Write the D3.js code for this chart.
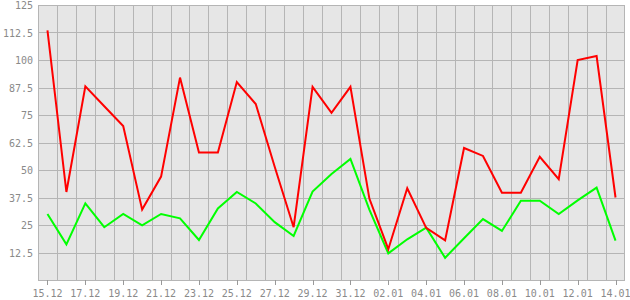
<!DOCTYPE html>
<html>
<head>
<meta charset="utf-8">
<script src="https://cdn.jsdelivr.net/npm/d3@7"></script>
<style>
  body { margin: 0; background: #fff; }
  svg { display: block; }
  .lbl { font-family: "DejaVu Sans Mono", monospace; font-size: 10px; fill: #8a8a8a; }
</style>
</head>
<body>
<svg id="chart" width="630" height="300"></svg>
<script>
// days shown on the x axis
var days = ["15.12","16.12","17.12","18.12","19.12","20.12","21.12","22.12","23.12","24.12",
  "25.12","26.12","27.12","28.12","29.12","30.12","31.12","01.01","02.01","03.01",
  "04.01","05.01","06.01","07.01","08.01","09.01","10.01","11.01","12.01","13.01","14.01"];

var redValues = [113.5, 40, 88, 79, 70, 32, 47, 92, 58, 58,
  90, 80, 51.5, 24, 87.8, 76, 87.8, 37, 14, 41.7,
  23.7, 18, 60, 56.4, 39.7, 39.7, 56, 45.8, 100, 101.8, 37.5];

var greenValues = [30, 16.2, 34.8, 24, 30, 24.8, 30, 28, 18.2, 32.5,
  40, 34.8, 26.3, 20, 40.2, 48.2, 55, 32, 12.1, 18.5,
  23.8, 10.1, 19, 27.7, 22.3, 36, 36, 30, 36.2, 42, 17.9];

var yTicks = [12.5, 25, 37.5, 50, 62.5, 75, 87.5, 100, 112.5, 125];

var Config = {
  Left: 38,
  Right: 625,
  Top: 5,
  Bottom: 280,
  PlotFill: "#e6e6e6",
  GridColor: "#b5b5b5",
  LineWidth: 2
};

var svg = d3.select("#chart");

var x = d3.scaleBand().domain(days).range([Config.Left, Config.Right]).padding(0);
var y = d3.scaleLinear().domain([0, 125]).range([Config.Bottom, Config.Top]);
var cx = function (d) { return x(d) + x.bandwidth() / 2; };

// plot background
svg.append("rect")
  .attr("x", Config.Left)
  .attr("y", Config.Top)
  .attr("width", Config.Right - Config.Left)
  .attr("height", Config.Bottom - Config.Top)
  .attr("fill", Config.PlotFill);

// vertical grid at band boundaries
svg.selectAll(".vgrid")
  .data(days.slice(1))
  .enter().append("line")
  .attr("x1", function (d) { return Math.round(x(d)) + 0.5; })
  .attr("x2", function (d) { return Math.round(x(d)) + 0.5; })
  .attr("y1", Config.Top)
  .attr("y2", Config.Bottom)
  .attr("stroke", Config.GridColor);

// horizontal grid
svg.selectAll(".hgrid")
  .data(yTicks)
  .enter().append("line")
  .attr("x1", Config.Left)
  .attr("x2", Config.Right)
  .attr("y1", function (d) { return Math.round(y(d)) + 0.5; })
  .attr("y2", function (d) { return Math.round(y(d)) + 0.5; })
  .attr("stroke", Config.GridColor);

// frame
svg.append("rect")
  .attr("x", Config.Left + 0.5)
  .attr("y", Config.Top + 0.5)
  .attr("width", Config.Right - Config.Left - 1)
  .attr("height", Config.Bottom - Config.Top)
  .attr("fill", "none")
  .attr("stroke", Config.GridColor);

// y labels
svg.selectAll(".ylbl")
  .data(yTicks)
  .enter().append("text")
  .attr("class", "lbl")
  .attr("x", 33)
  .attr("y", function (d) { return y(d) + 4; })
  .attr("text-anchor", "end")
  .text(function (d) { return d; });

// x ticks and labels, every other day
var shown = days.filter(function (d, i) { return i % 2 == 0; });

svg.selectAll(".xtick")
  .data(shown)
  .enter().append("line")
  .attr("x1", function (d) { return Math.round(cx(d)) + 0.5; })
  .attr("x2", function (d) { return Math.round(cx(d)) + 0.5; })
  .attr("y1", Config.Bottom)
  .attr("y2", Config.Bottom + 5)
  .attr("stroke", "#999");

svg.selectAll(".xlbl")
  .data(shown)
  .enter().append("text")
  .attr("class", "lbl")
  .attr("x", function (d) { return cx(d); })
  .attr("y", 297)
  .attr("text-anchor", "middle")
  .text(function (d) { return d; });

// series
var line = d3.line()
  .x(function (d, i) { return cx(days[i]); })
  .y(function (d) { return y(d); });

svg.append("path")
  .datum(greenValues)
  .attr("d", line)
  .attr("fill", "none")
  .attr("stroke", "#00ff00")
  .attr("stroke-width", Config.LineWidth);

svg.append("path")
  .datum(redValues)
  .attr("d", line)
  .attr("fill", "none")
  .attr("stroke", "#ff0000")
  .attr("stroke-width", Config.LineWidth);
</script>
</body>
</html>
